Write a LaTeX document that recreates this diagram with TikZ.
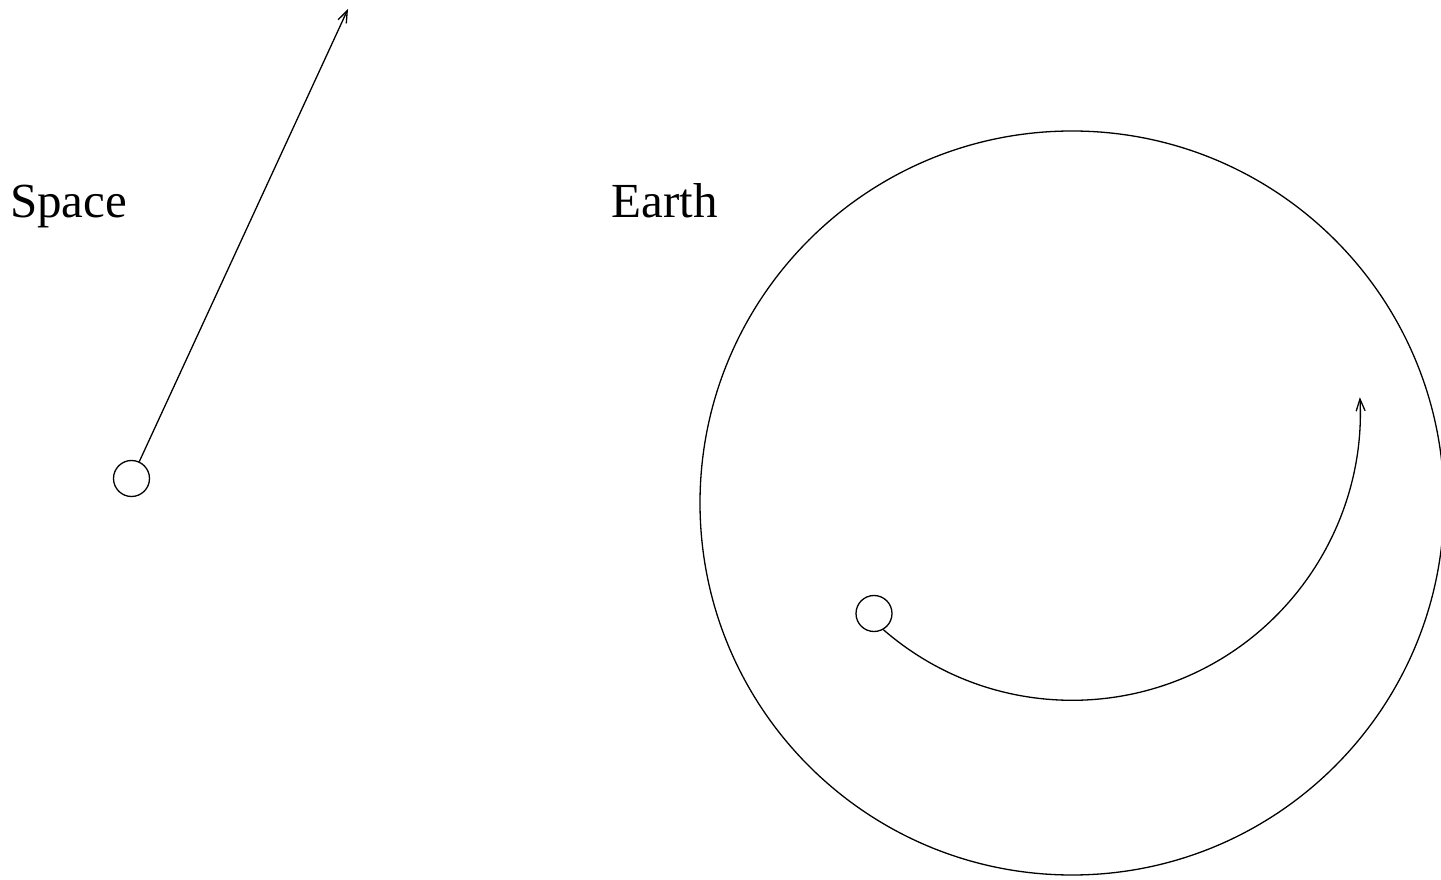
\documentclass[tikz,border=0pt]{standalone}
\usepackage{fontspec}
\setmainfont{Liberation Serif}
\usetikzlibrary{arrows.meta}
\begin{document}
\begin{tikzpicture}[
    x=0.5pt, y=0.5pt,
    line width=0.65pt,
    ball/.style={circle, draw, inner sep=0pt, minimum size=18pt},
    label/.style={anchor=base, font=\fontsize{24.5}{29}\selectfont},
    path/.style={-{Straight Barb[length=6pt,width=4.5pt]}}
]
    \useasboundingbox (0,0) rectangle (1441,879);

    % Space
    \node[label] (spacetext) at (68.5,661) {Space};
    \node[ball] (ball1) at (131.5,400.5) {};
    \coordinate (tip1) at (348,870);
    \draw[path] (ball1) -- (tip1);

    % Earth
    \node[label] (earthtext) at (665,661) {Earth};
    \node[circle, draw, inner sep=0pt, minimum size=372pt] (earth) at (1072,376) {};
    \node[ball] (ball2) at (874,265.5) {};
    \draw[path] (ball2.-60) arc[start angle=229, end angle=363, radius=288];
\end{tikzpicture}
\end{document}
